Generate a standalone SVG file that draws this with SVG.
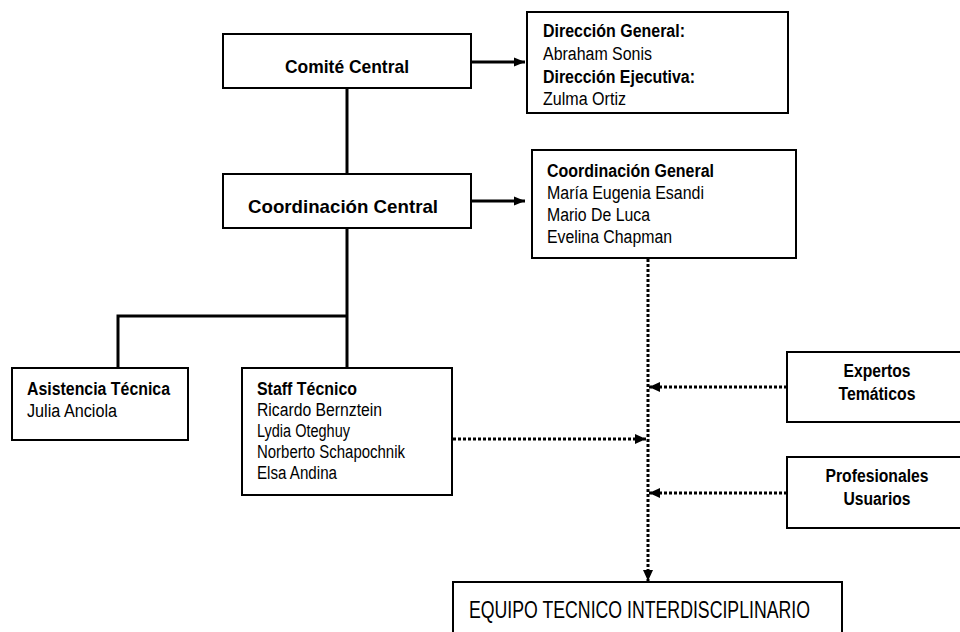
<svg xmlns="http://www.w3.org/2000/svg" width="960" height="632" viewBox="0 0 960 632">
<style>
.box{fill:#fff;stroke:#000;stroke-width:2}
text{font-family:"Liberation Sans",Arial,sans-serif;fill:#000}
.b{font-weight:bold}
.t{font-size:18px}
.solid{stroke:#000;stroke-width:3;fill:none}
.dot{stroke:#000;stroke-width:3;fill:none;stroke-dasharray:3 2}
</style>
<defs>
<marker id="ah" markerWidth="12" markerHeight="12" refX="11" refY="6" orient="auto" markerUnits="userSpaceOnUse">
<path d="M0,1.5 L11,6 L0,10.5 Z" fill="#000"/>
</marker>
<marker id="ahd" markerWidth="12" markerHeight="12" refX="11" refY="6" orient="auto" markerUnits="userSpaceOnUse">
<path d="M0,1 L11,6 L0,11 Z" fill="#000"/>
</marker>
</defs>
<rect width="960" height="632" fill="#fff"/>
<g id="connectors">
<line class="solid" x1="347" y1="88" x2="347" y2="174"/>
<path class="solid" d="M347,228 V316 M118,316 H348 M118,314.5 V368 M347,316 V368"/>
<line class="solid" x1="471" y1="62" x2="525" y2="62" marker-end="url(#ah)"/>
<line class="solid" x1="471" y1="201" x2="525" y2="201" marker-end="url(#ah)"/>
<line class="dot" x1="648" y1="259" x2="648" y2="581" marker-end="url(#ahd)"/>
<line class="dot" x1="453" y1="439" x2="646" y2="439" marker-end="url(#ahd)"/>
<line class="dot" x1="787" y1="387" x2="649" y2="387" marker-end="url(#ahd)"/>
<line class="dot" x1="787" y1="493" x2="649" y2="493" marker-end="url(#ahd)"/>
</g>
<g id="comite-central">
<rect class="box" x="223" y="34" width="248" height="54"/>
<text class="b" x="347" y="73" font-size="19" text-anchor="middle" textLength="124" lengthAdjust="spacingAndGlyphs">Comité Central</text>
</g>
<g id="coordinacion-central">
<rect class="box" x="223" y="174" width="248" height="54"/>
<text class="b" x="343" y="213" font-size="19" text-anchor="middle" textLength="190" lengthAdjust="spacingAndGlyphs">Coordinación Central</text>
</g>
<g id="direccion">
<rect class="box" x="527" y="12" width="261" height="101"/>
<text class="b t" x="543" y="37" textLength="142" lengthAdjust="spacingAndGlyphs">Dirección General:</text>
<text class="t" x="543" y="60" textLength="109" lengthAdjust="spacingAndGlyphs">Abraham Sonis</text>
<text class="b t" x="543" y="83" textLength="152" lengthAdjust="spacingAndGlyphs">Dirección Ejecutiva:</text>
<text class="t" x="543" y="105" textLength="83" lengthAdjust="spacingAndGlyphs">Zulma Ortiz</text>
</g>
<g id="coordinacion-general">
<rect class="box" x="532" y="150" width="264" height="108"/>
<text class="b t" x="547" y="177" textLength="167" lengthAdjust="spacingAndGlyphs">Coordinación General</text>
<text class="t" x="547" y="199" textLength="157" lengthAdjust="spacingAndGlyphs">María Eugenia Esandi</text>
<text class="t" x="547" y="221" textLength="103" lengthAdjust="spacingAndGlyphs">Mario De Luca</text>
<text class="t" x="547" y="243" textLength="125" lengthAdjust="spacingAndGlyphs">Evelina Chapman</text>
</g>
<g id="asistencia-tecnica">
<rect class="box" x="12" y="368" width="176" height="72"/>
<text class="b t" x="27" y="395" textLength="143" lengthAdjust="spacingAndGlyphs">Asistencia Técnica</text>
<text class="t" x="27" y="417" textLength="90" lengthAdjust="spacingAndGlyphs">Julia Anciola</text>
</g>
<g id="staff-tecnico">
<rect class="box" x="242" y="368" width="210" height="127"/>
<text class="b t" x="257" y="395" textLength="100" lengthAdjust="spacingAndGlyphs">Staff Técnico</text>
<text class="t" x="257" y="416" textLength="125" lengthAdjust="spacingAndGlyphs">Ricardo Bernztein</text>
<text class="t" x="257" y="437" textLength="93" lengthAdjust="spacingAndGlyphs">Lydia Oteghuy</text>
<text class="t" x="257" y="458" textLength="148" lengthAdjust="spacingAndGlyphs">Norberto Schapochnik</text>
<text class="t" x="257" y="479" textLength="80" lengthAdjust="spacingAndGlyphs">Elsa Andina</text>
</g>
<g id="expertos-tematicos">
<rect class="box" x="787" y="352" width="180" height="70"/>
<text class="b t" x="877" y="377" text-anchor="middle" textLength="67" lengthAdjust="spacingAndGlyphs">Expertos</text>
<text class="b t" x="877" y="400" text-anchor="middle" textLength="77" lengthAdjust="spacingAndGlyphs">Temáticos</text>
</g>
<g id="profesionales-usuarios">
<rect class="box" x="787" y="457" width="180" height="71"/>
<text class="b t" x="877" y="482" text-anchor="middle" textLength="103" lengthAdjust="spacingAndGlyphs">Profesionales</text>
<text class="b t" x="877" y="505" text-anchor="middle" textLength="67" lengthAdjust="spacingAndGlyphs">Usuarios</text>
</g>
<g id="equipo-tecnico">
<rect class="box" x="453" y="582" width="389" height="70"/>
<text x="469" y="618" font-size="23" textLength="341" lengthAdjust="spacingAndGlyphs">EQUIPO TECNICO INTERDISCIPLINARIO</text>
</g>
</svg>
